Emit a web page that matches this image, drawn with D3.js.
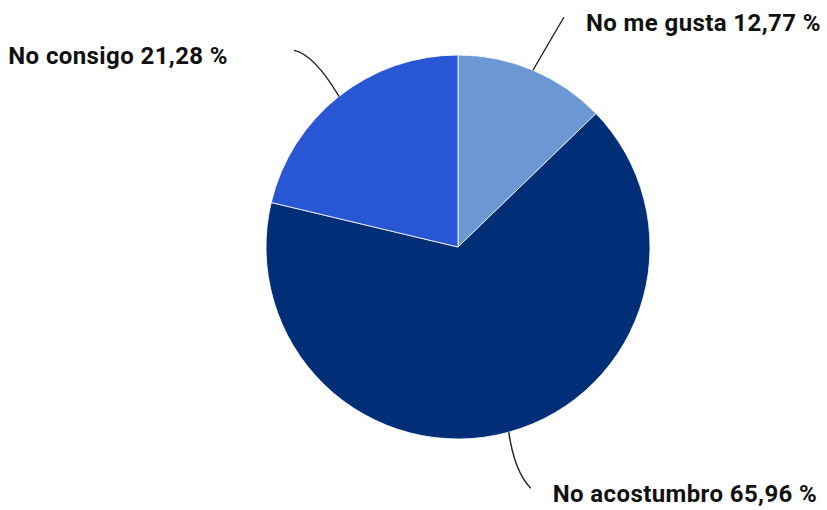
<!DOCTYPE html>
<html>
<head>
<meta charset="utf-8">
<script src="https://cdn.jsdelivr.net/npm/d3@7"></script>
<style>
  html, body { margin: 0; padding: 0; background: #fff; }
  svg { display: block; }
  text { font-family: Roboto, "Noto Sans", sans-serif; font-weight: 700; fill: #111; letter-spacing: 0.4px; }
</style>
</head>
<body>
<svg id="chart" width="827" height="510"></svg>
<script>
// Reasons, in drawing order (clockwise from 12 o'clock)
const categories = ["No me gusta", "No acostumbro", "No consigo"];
const values = [12.77, 65.96, 21.28];
const valueLabels = ["12,77 %", "65,96 %", "21,28 %"];
const colors = ["#6b97d3", "#002f78", "#2957d3"];

const svg = d3.select("#chart");
const cx = 458, cy = 247, radius = 192;

const pie = d3.pie().sort(null).value(d => d.value);
const arcs = pie(categories.map((c, i) => ({ name: c, value: values[i], label: valueLabels[i], color: colors[i] })));

const arc = d3.arc().innerRadius(0).outerRadius(radius);
const g = svg.append("g").attr("transform", `translate(${cx},${cy})`);

g.selectAll("path.slice")
  .data(arcs)
  .join("path")
  .attr("class", "slice")
  .attr("d", arc)
  .attr("fill", d => d.data.color)
  .attr("stroke", "#ffffff")
  .attr("stroke-width", 0.8);

// Leader line layout per slice: end point offset from the rim point, control point offset, label anchor
const leaderLayout = [
  { end: [31, -53], ctrl: [22, -38], text: [22, 14], anchor: "start" },
  { end: [22, 56], ctrl: [6, 40], text: [22, 14], anchor: "start" },
  { end: [-45, -46], ctrl: [-25, -42], text: [-66, 14], anchor: "end" }
];

arcs.forEach((d, i) => {
  const a = (d.startAngle + d.endAngle) / 2;
  const px = Math.sin(a) * radius, py = -Math.cos(a) * radius;
  const L = leaderLayout[i];
  const ex = px + L.end[0], ey = py + L.end[1];
  const path = d3.path();
  path.moveTo(px, py);
  path.quadraticCurveTo(px + L.ctrl[0], py + L.ctrl[1], ex, ey);
  g.append("path")
    .attr("d", path.toString())
    .attr("fill", "none")
    .attr("stroke", "#222")
    .attr("stroke-width", 1.4);
  g.append("text")
    .attr("x", ex + L.text[0])
    .attr("y", ey + L.text[1])
    .attr("text-anchor", L.anchor)
    .attr("font-size", 24)
    .text(`${d.data.name} ${d.data.label}`);
});
</script>
</body>
</html>
